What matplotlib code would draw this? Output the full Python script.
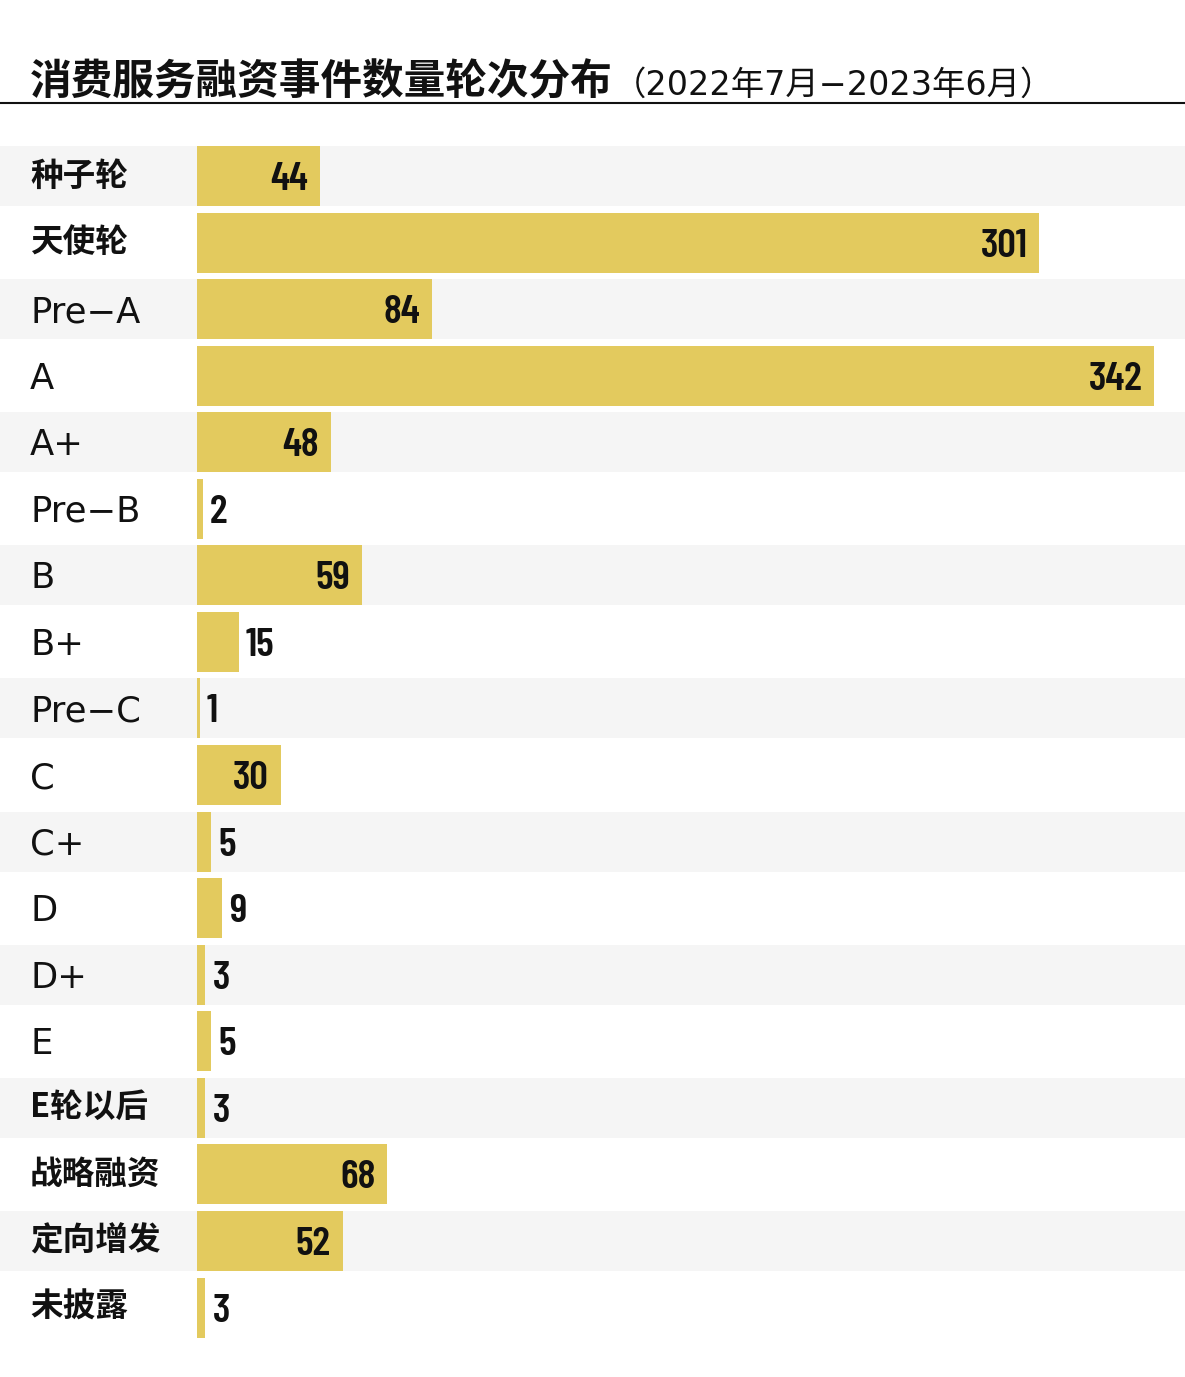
import matplotlib
matplotlib.use("Agg")
import matplotlib.pyplot as plt
from matplotlib import font_manager as fm
from matplotlib.transforms import blended_transform_factory
import matplotlib.lines as mlines

plt.rcParams['font.family'] = ['Noto Sans CJK SC', 'DejaVu Sans']

title_main = "消费服务融资事件数量轮次分布"
title_sub = "（2022年7月−2023年6月）"
categories = ["种子轮", "天使轮", "Pre−A", "A", "A+", "Pre−B", "B", "B+", "Pre−C",
              "C", "C+", "D", "D+", "E", "E轮以后", "战略融资", "定向增发", "未披露"]
values = [44, 301, 84, 342, 48, 2, 59, 15, 1, 30, 5, 9, 3, 5, 3, 68, 52, 3]

W, H = 1185, 1377
DPI = 100
fig = plt.figure(figsize=(W / DPI, H / DPI), dpi=DPI)
fig.patch.set_facecolor("white")

names = {}
for f in fm.fontManager.ttflist:
    names.setdefault(f.name, set()).add(f.weight)
if "Barlow Condensed" in names:
    num_family = ["Barlow Condensed"]
    num_weight = 600 if 600 in names["Barlow Condensed"] else "bold"
    num_size = 29.5
    cap_px = 14
else:
    num_family = ["DejaVu Sans"]
    num_weight = "bold"
    num_size = 22
    cap_px = 11
latin_family = ["DejaVu Sans", "Noto Sans CJK SC"]

ax = fig.add_axes([0, 0, 1, 1])
ax.set_axis_off()
px_per_unit = (1154 - 197) / 342.0
x0_px = 197
row_pitch = 66.56
first_center = 176
ax.set_xlim(-x0_px / px_per_unit, (W - x0_px) / px_per_unit)
ax.set_ylim((H - first_center) / row_pitch, -first_center / row_pitch)

bar_color = "#E3CA5E"
band_color = "#F5F5F5"
bar_h = 60 / row_pitch

for i in range(len(categories)):
    if i % 2 == 0:
        ax.axhspan(i - bar_h / 2, i + bar_h / 2, color=band_color, zorder=0, lw=0)

ypos = list(range(len(categories)))
ax.barh(ypos, values, height=bar_h, color=bar_color, zorder=2, lw=0)

def has_cjk(s):
    return any(ord(ch) > 0x2E80 for ch in s)

trans_lab = blended_transform_factory(ax.transAxes, ax.transData)
for i, (c, v) in enumerate(zip(categories, values)):
    if has_cjk(c):
        ax.text(30 / W, i, c, transform=trans_lab, ha="left", va="center",
                fontsize=23.5, fontweight="bold", color="#111111", zorder=3)
    else:
        ax.text(30 / W, i + 13 / row_pitch, c, transform=trans_lab, ha="left",
                va="baseline", fontsize=25.5, family=latin_family,
                color="#111111", zorder=3)
    bar_px = v * px_per_unit
    yb = i + cap_px / row_pitch
    if bar_px > 60:
        ax.text(v - 12 / px_per_unit, yb, str(v), ha="right", va="baseline",
                fontsize=num_size, fontweight=num_weight, family=num_family,
                color="#111111", zorder=3)
    else:
        ax.text(v + 7 / px_per_unit, yb, str(v), ha="left", va="baseline",
                fontsize=num_size, fontweight=num_weight, family=num_family,
                color="#111111", zorder=3)

# title and rule
t1 = fig.text(30 / W, 1 - 94 / H, title_main, ha="left", va="baseline",
              fontsize=30, fontweight="bold", color="#111111")
fig.canvas.draw()
bb = t1.get_window_extent(renderer=fig.canvas.get_renderer())
fig.text(bb.x1 / W, 1 - 95 / H, title_sub, ha="left", va="baseline",
         fontsize=24, family=latin_family, color="#111111")
fig.add_artist(mlines.Line2D([0, 1], [1 - 103 / H, 1 - 103 / H],
                             transform=fig.transFigure, color="#111111", lw=1.5))

fig.savefig("out.png", dpi=DPI, facecolor="white")
